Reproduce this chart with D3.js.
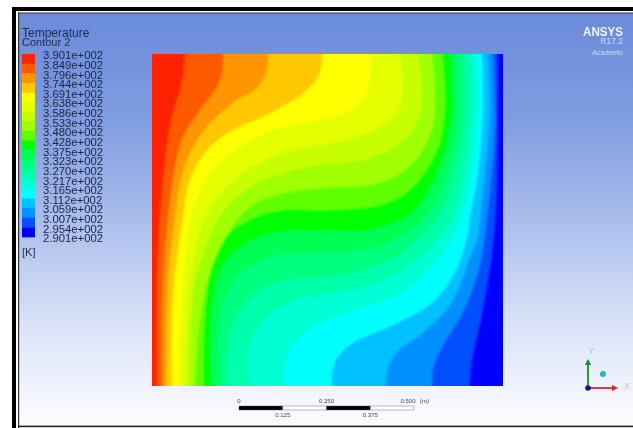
<!DOCTYPE html>
<html><head><meta charset="utf-8">
<script src="https://cdn.jsdelivr.net/npm/d3@7"></script>
<style>html,body{margin:0;padding:0;background:#fff;overflow:hidden}svg{display:block}text{font-family:"Liberation Sans",Arial,sans-serif}</style>
</head><body><svg id="c" width="633" height="428"></svg>
<script>
const legendTitle = "Temperature";
const legendSubtitle = "Contour 2";
const legendUnit = "[K]";
const legendLabels = ["3.901e+002","3.849e+002","3.796e+002","3.744e+002","3.691e+002","3.638e+002","3.586e+002","3.533e+002","3.480e+002","3.428e+002","3.375e+002","3.323e+002","3.270e+002","3.217e+002","3.165e+002","3.112e+002","3.059e+002","3.007e+002","2.954e+002","2.901e+002"];
// band fill colours, hottest (left) to coldest (right); also the legend swatches
const bandColors = ["#ff2000","#ff5a00","#ff9500","#ffc800","#ffff00","#e4ff00","#c8ff00","#a0ff00","#60ff00","#00ff00","#00ff55","#00ff80","#00ffaa","#00ffd4","#00ffff","#00c0ff","#0090ff","#0050ff","#0000ff"];
const scaleTicksTop = [0,0.25];
const scaleTicksBottom = [0.125,0.375];
const scaleStops = [0,0.125,0.25,0.375,0.5];
// isotherm boundaries in mesh units: x across 0..351, y up 0..332, top wall to bottom wall
const iso01 = [[33,332],[32,316],[28,296],[21,273],[16,249],[12,213],[8,169],[5,104],[5,38],[5,0]];
const iso02 = [[71,332],[70,313],[63,296],[48,276],[31,249],[23,219],[16,169],[11,104],[10,0]];
const iso03 = [[116,332],[115,316],[106,299],[81,283],[55,259],[38,233],[28,203],[23,169],[16,104],[14,0]];
const iso04 = [[170,332],[168,313],[155,296],[121,274],[81,256],[55,236],[38,206],[31,169],[21,88],[20,0]];
const iso05 = [[220,332],[218,309],[211,286],[188,271],[168,266],[121,256],[88,239],[61,216],[45,189],[38,166],[30,88],[27,0]];
const iso06 = [[248,332],[251,306],[248,279],[228,259],[195,246],[168,241],[131,233],[95,216],[71,196],[52,166],[38,104],[33,0]];
const iso07 = [[266,332],[270,303],[266,266],[248,243],[211,226],[168,221],[131,213],[98,199],[78,183],[66,166],[43,104],[38,0]];
const iso08 = [[280,332],[283,296],[280,256],[261,223],[228,203],[168,198],[138,194],[105,184],[85,166],[60,120],[47,60],[43,0]];
const iso09 = [[290,332],[293,279],[285,236],[261,199],[235,183],[201,177],[168,176],[131,176],[106,170],[75,151],[61,124],[53,71],[51,0]];
const iso10 = [[298,332],[300,279],[293,236],[278,199],[258,171],[235,161],[211,155],[168,155],[121,153],[91,141],[71,121],[61,88],[58,38],[60,0]];
const iso11 = [[305,332],[306,279],[301,236],[290,199],[275,171],[258,154],[231,141],[201,134],[168,133],[128,131],[101,121],[81,104],[70,78],[66,38],[68,0]];
const iso12 = [[311,332],[313,279],[308,233],[296,189],[286,169],[268,148],[241,128],[205,114],[168,109],[135,106],[111,98],[91,81],[78,54],[75,0]];
const iso13 = [[318,332],[320,279],[315,226],[305,179],[298,164],[278,138],[248,114],[208,98],[168,91],[145,86],[121,74],[103,54],[95,31],[98,0]];
const iso14 = [[325,332],[326,279],[320,219],[311,173],[303,151],[281,121],[251,94],[211,78],[168,63],[155,54],[138,38],[131,0]];
const iso15 = [[330,332],[331,279],[326,213],[318,169],[316,154],[305,118],[281,84],[241,61],[201,43],[185,28],[180,11],[180,0]];
const iso16 = [[336,332],[338,279],[333,213],[328,169],[326,151],[318,128],[298,81],[268,51],[245,34],[236,18],[234,0]];
const iso17 = [[341,332],[343,263],[338,196],[335,171],[328,121],[311,74],[291,41],[281,18],[280,0]];
const iso18 = [[345,332],[345,246],[343,169],[338,121],[328,64],[320,28],[317,0]];
const isotherms = [iso01,iso02,iso03,iso04,iso05,iso06,iso07,iso08,iso09,iso10,iso11,iso12,iso13,iso14,iso15,iso16,iso17,iso18];

const svg = d3.select("#c");
const defs = svg.append("defs");
const grad = defs.append("linearGradient").attr("id","bg").attr("x1",0).attr("y1",0).attr("x2",0).attr("y2",1);
[[0,"#6a8bdb"],[0.25,"#7f9ce0"],[0.5,"#aabdeb"],[0.75,"#d9e2f7"],[1,"#fdfdff"]].forEach(s=>grad.append("stop").attr("offset",s[0]).attr("stop-color",s[1]));
defs.append("filter").attr("id","soft").attr("x","-5%").attr("y","-5%").attr("width","110%").attr("height","110%").append("feGaussianBlur").attr("stdDeviation",0.8);
defs.append("filter").attr("id","softText").attr("x","-5%").attr("y","-20%").attr("width","110%").attr("height","140%").append("feGaussianBlur").attr("stdDeviation",0.35);
defs.append("clipPath").attr("id","plot").append("rect").attr("x",152).attr("y",54).attr("width",351).attr("height",332);

// frame
svg.append("rect").attr("x",19).attr("y",13.5).attr("width",614).attr("height",412).attr("fill","url(#bg)");
svg.append("rect").attr("x",12).attr("y",7).attr("width",621).attr("height",4).attr("fill","#000");
svg.append("rect").attr("x",12).attr("y",7).attr("width",4).attr("height",421).attr("fill","#000");
svg.append("rect").attr("x",18).attr("y",12.5).attr("width",615).attr("height",1.2).attr("fill","#333");
svg.append("rect").attr("x",18).attr("y",12.5).attr("width",1.2).attr("height",415.5).attr("fill","#333");
svg.append("rect").attr("x",18).attr("y",425.6).attr("width",615).attr("height",1.6).attr("fill","#222");

// contour field: painted oversize, blurred, then clipped so the outer edge stays crisp
const x = d3.scaleLinear().domain([0,351]).range([152,503]);
const y = d3.scaleLinear().domain([0,332]).range([386,54]);
const curve = d3.line().x(d=>x(d[0])).y(d=>y(d[1])).curve(d3.curveCatmullRom.alpha(0.5));
const inner = svg.append("g").attr("clip-path","url(#plot)").append("g").attr("filter","url(#soft)");
const pad = 4;
inner.append("rect").attr("x",x(0)-pad).attr("y",y(332)-pad).attr("width",x(351)-x(0)+2*pad).attr("height",y(0)-y(332)+2*pad).attr("fill",bandColors[bandColors.length-1]);
// paint coldest first: each isotherm fills everything hotter on its left
for (let i=isotherms.length-1;i>=0;i--){
  const pts = isotherms[i];
  const first = pts[0], last = pts[pts.length-1];
  const d = `M${x(first[0])},${y(332)-pad}L` + curve(pts).slice(1) + `L${x(last[0])},${y(0)+pad}L${x(0)-pad},${y(0)+pad}L${x(0)-pad},${y(332)-pad}Z`;
  inner.append("path").attr("d",d).attr("fill",bandColors[i]);
}

// legend
const txt = svg.append("g").attr("filter","url(#softText)");
txt.append("text").attr("x",22).attr("y",36.5).attr("font-size",12).attr("fill","#1d2a4a").text(legendTitle);
txt.append("text").attr("x",22).attr("y",46).attr("font-size",11).attr("fill","#1d2a4a").text(legendSubtitle);
const ly = d3.scaleBand().domain(d3.range(bandColors.length)).range([54,237]);
svg.append("g").attr("filter","url(#softText)").selectAll("rect").data(bandColors).join("rect")
  .attr("x",22).attr("y",(d,i)=>ly(i)).attr("width",13).attr("height",ly.bandwidth()+0.3).attr("fill",d=>d);
const lab = d3.scaleLinear().domain([0,legendLabels.length-1]).range([59.3,242.3]);
txt.selectAll("text.l").data(legendLabels).join("text").attr("class","l")
  .attr("x",43).attr("y",(d,i)=>lab(i)).attr("font-size",11.3).attr("fill","#1a2440").text(d=>d);
txt.append("text").attr("x",22).attr("y",256).attr("font-size",11).attr("fill","#1d2a4a").text(legendUnit);

// scale bar
const s = d3.scaleLinear().domain([0,0.5]).range([239,414]);
const bar = svg.append("g").attr("filter","url(#softText)");
d3.pairs(scaleStops).forEach((p,i)=>{
  bar.append("rect").attr("x",s(p[0])).attr("y",406).attr("width",s(p[1])-s(p[0])).attr("height",4)
    .attr("fill",i%2?"#fff":"#000").attr("stroke","#555").attr("stroke-width",0.4);
});
bar.selectAll("text.t").data(scaleTicksTop).join("text").attr("class","t")
  .attr("x",d=>s(d)).attr("y",403).attr("text-anchor","middle").attr("font-size",6).attr("fill","#444")
  .text(d=>d===0?"0":d3.format(".3f")(d));
bar.append("text").attr("x",s(0.5)-6).attr("y",403).attr("text-anchor","middle").attr("font-size",6).attr("fill","#444").text("0.500");
bar.append("text").attr("x",420).attr("y",403).attr("font-size",6).attr("fill","#444").text("(m)");
bar.selectAll("text.b").data(scaleTicksBottom).join("text").attr("class","b")
  .attr("x",d=>s(d)).attr("y",417).attr("text-anchor","middle").attr("font-size",6).attr("fill","#444")
  .text(d=>d3.format(".3f")(d));

// ANSYS mark
const logo = svg.append("g").attr("filter","url(#softText)").attr("text-anchor","end").attr("fill","#fff");
logo.append("text").attr("x",623).attr("y",36).attr("font-size",13).attr("font-weight","bold").attr("fill","#f2f5fd").attr("textLength",40).attr("lengthAdjust","spacingAndGlyphs").text("ANSYS");
logo.append("text").attr("x",623).attr("y",44).attr("font-size",8.5).attr("fill","#d3ddf5").text("R17.2");
logo.append("text").attr("x",623).attr("y",55).attr("font-size",7).attr("fill","#d3ddf5").text("Academic");

// triad
const tri = svg.append("g").attr("filter","url(#softText)");
defs.append("marker").attr("id","ag").attr("viewBox","0 0 10 10").attr("refX",5).attr("refY",5).attr("markerWidth",3.5).attr("markerHeight",3.5).attr("orient","auto").append("path").attr("d","M0,0L10,5L0,10Z").attr("fill","#1f8a2e");
defs.append("marker").attr("id","ar").attr("viewBox","0 0 10 10").attr("refX",5).attr("refY",5).attr("markerWidth",3.5).attr("markerHeight",3.5).attr("orient","auto").append("path").attr("d","M0,0L10,5L0,10Z").attr("fill","#d8262c");
tri.append("line").attr("x1",588).attr("y1",388).attr("x2",588).attr("y2",362).attr("stroke","#1f8a2e").attr("stroke-width",1.8).attr("marker-end","url(#ag)");
tri.append("line").attr("x1",588).attr("y1",388).attr("x2",615).attr("y2",388).attr("stroke","#d8262c").attr("stroke-width",1.8).attr("marker-end","url(#ar)");
tri.append("circle").attr("cx",588).attr("cy",388).attr("r",2.8).attr("fill","#12128a");
tri.append("circle").attr("cx",603).attr("cy",374).attr("r",3).attr("fill","#2bb5c0");
tri.append("text").attr("x",591).attr("y",354).attr("text-anchor","middle").attr("font-size",9).attr("fill","#b7bfd0").text("Y");
tri.append("text").attr("x",627).attr("y",389).attr("text-anchor","middle").attr("font-size",9).attr("fill","#e0bcc4").text("X");
</script></body></html>
